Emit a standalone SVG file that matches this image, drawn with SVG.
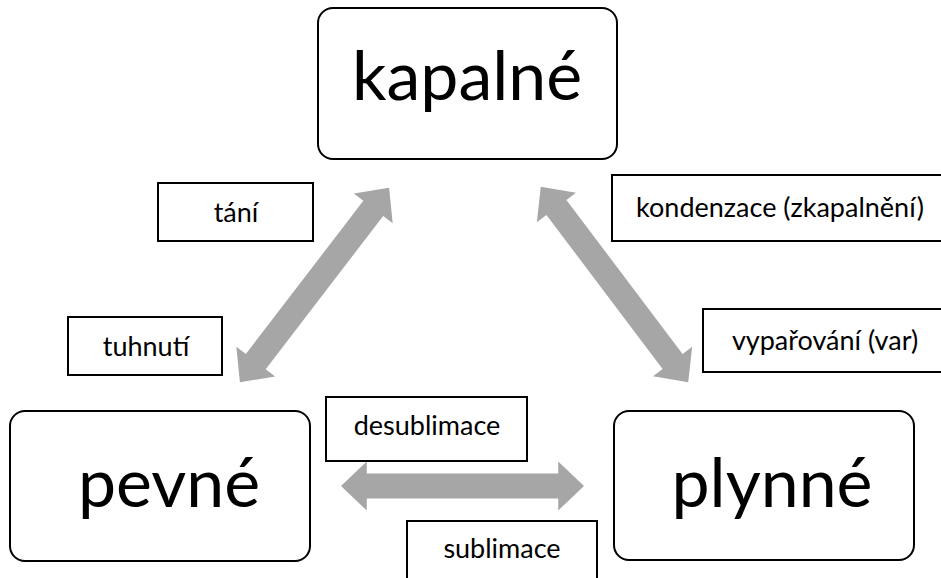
<svg xmlns="http://www.w3.org/2000/svg" width="941" height="578" viewBox="0 0 941 578">
<style>
.node{fill:#fff;stroke:#000;stroke-width:2}
.lbl{fill:#fff;stroke:#000;stroke-width:2}
.big{font-family:Lato,"Liberation Sans",sans-serif;font-size:68px;fill:#000;text-anchor:middle}
.sm{font-family:Lato,"Liberation Sans",sans-serif;font-size:27px;fill:#000;text-anchor:middle}
.arr{fill:#a6a6a6;stroke:none}
</style>
<defs>
<polygon id="dbl" points="-122.5,0 -96.5,-24.5 -96.5,-12.5 96.5,-12.5 96.5,-24.5 122.5,0 96.5,24.5 96.5,12.5 -96.5,12.5 -96.5,24.5"/>
</defs>
<rect width="941" height="578" fill="#fff"/>
<g id="connectors">
<use href="#dbl" class="arr" transform="translate(314.5,285) rotate(-52.5)"/>
<use href="#dbl" class="arr" transform="translate(614.5,284.5) rotate(53)"/>
<use href="#dbl" class="arr" transform="translate(462.5,486) scale(0.992,1)"/>
</g>
<g id="kapalne">
<rect class="node" x="318" y="8" width="299" height="151" rx="15"/>
<text class="big" x="467" y="100">kapalné</text>
</g>
<g id="pevne">
<rect class="node" x="10" y="411" width="300" height="150" rx="15"/>
<text class="big" x="169" y="507">pevné</text>
</g>
<g id="plynne">
<rect class="node" x="614" y="411" width="300" height="149" rx="15"/>
<text class="big" x="772" y="507">plynné</text>
</g>
<g id="tani">
<rect class="lbl" x="158" y="183" width="155" height="58"/>
<text class="sm" x="236" y="222">tání</text>
</g>
<g id="tuhnuti">
<rect class="lbl" x="68" y="317" width="154" height="58"/>
<text class="sm" x="146" y="356">tuhnutí</text>
</g>
<g id="kondenzace">
<rect class="lbl" x="612" y="175" width="340" height="66"/>
<text class="sm" x="780" y="217">kondenzace (zkapalnění)</text>
</g>
<g id="vyparovani">
<rect class="lbl" x="703" y="309" width="250" height="63"/>
<text class="sm" x="825" y="350">vypařování (var)</text>
</g>
<g id="desublimace">
<rect class="lbl" x="326" y="397" width="201" height="64"/>
<text class="sm" x="427" y="435">desublimace</text>
</g>
<g id="sublimace">
<rect class="lbl" x="407" y="521" width="190" height="70"/>
<text class="sm" x="502" y="558">sublimace</text>
</g>
</svg>
